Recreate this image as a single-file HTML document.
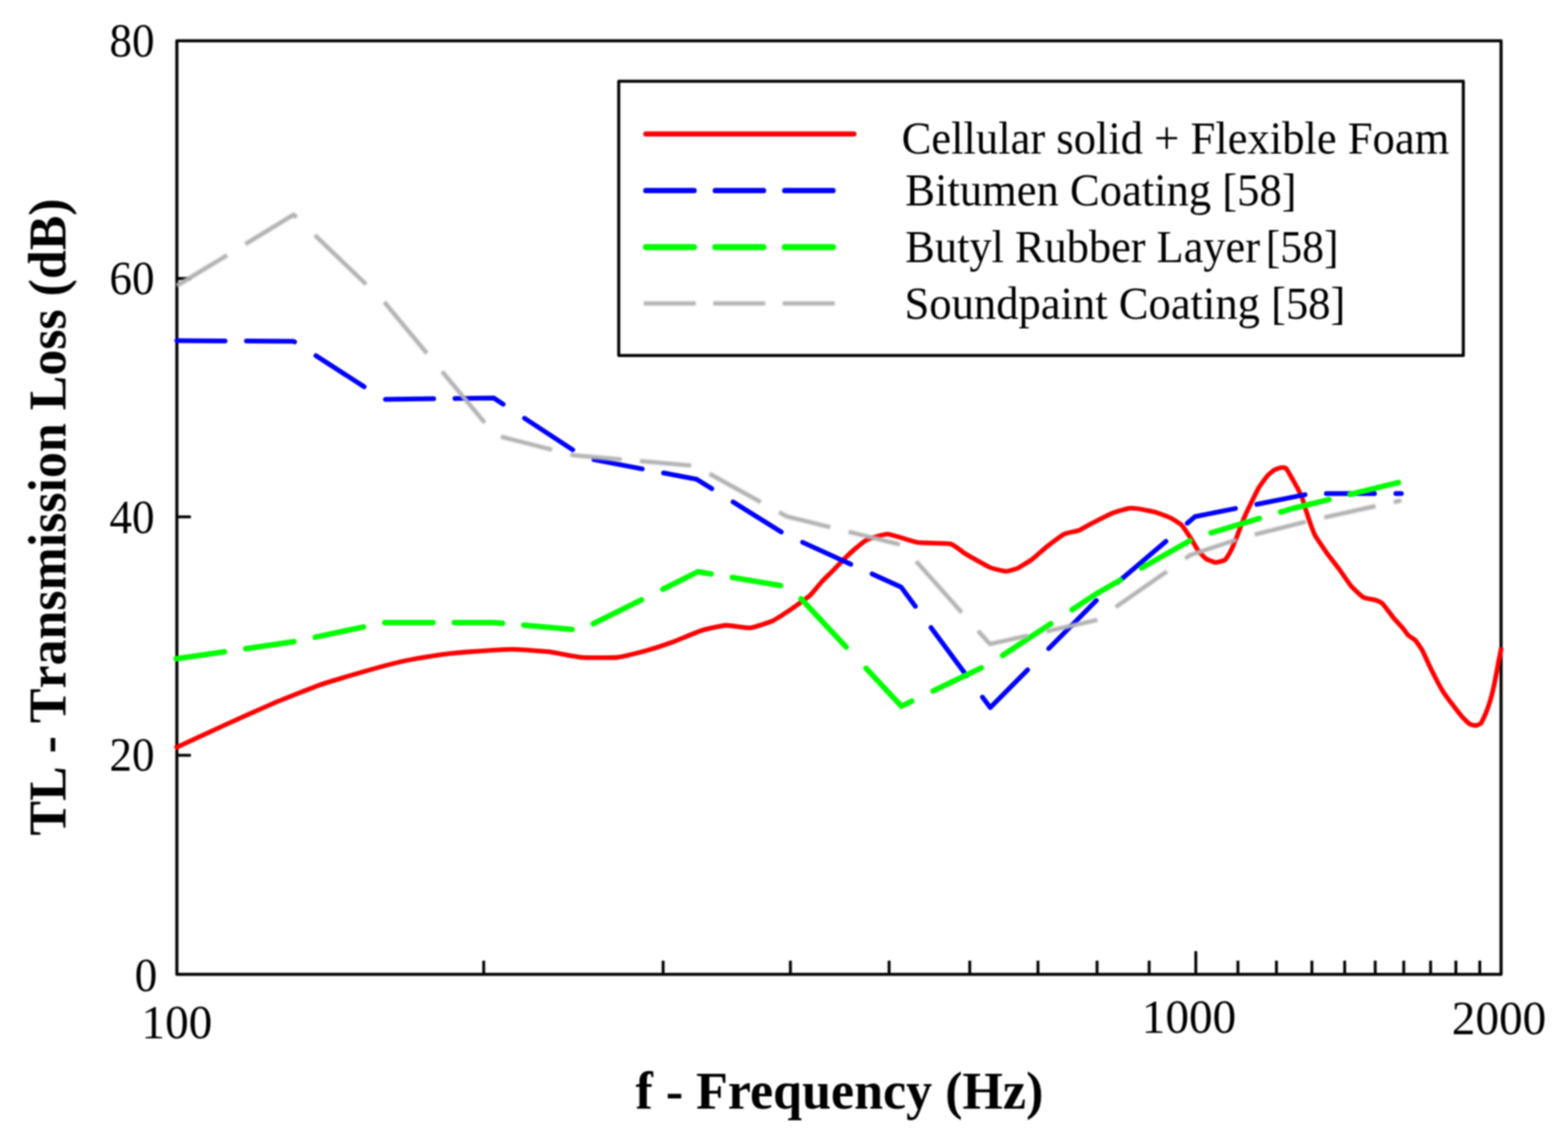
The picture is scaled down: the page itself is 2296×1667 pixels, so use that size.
<!DOCTYPE html>
<html lang="en">
<head>
<meta charset="utf-8">
<title>TL - Transmission Loss (dB) vs f - Frequency (Hz)</title>
<style>
html,body{margin:0;padding:0;background:#ffffff;}
body{width:2296px;height:1667px;overflow:hidden;}
svg{display:block;}
</style>
</head>
<body>
<svg xmlns="http://www.w3.org/2000/svg" width="2296" height="1667" viewBox="0 0 2296 1667">
<defs><filter id="soft" x="0" y="0" width="2296" height="1667" filterUnits="userSpaceOnUse" color-interpolation-filters="sRGB"><feGaussianBlur stdDeviation="1.0"/></filter></defs>
<defs><filter id="softer" x="0" y="0" width="2296" height="1667" filterUnits="userSpaceOnUse" color-interpolation-filters="sRGB"><feGaussianBlur stdDeviation="1.0"/></filter></defs>
<rect x="0" y="0" width="2296" height="1667" fill="#ffffff"/>
<g id="chart" filter="url(#soft)">
<g id="axes" stroke="#050505" stroke-width="4.6" fill="none" stroke-linecap="butt">
<rect x="259.0" y="59.7" width="1939.0" height="1367.5" stroke-linejoin="round"/>
<path d="M708.3 1427.2 V1407.2 M971.0 1427.2 V1407.2 M1157.4 1427.2 V1407.2 M1301.9 1427.2 V1407.2 M1420.0 1427.2 V1407.2 M1519.9 1427.2 V1407.2 M1606.4 1427.2 V1407.2 M1682.7 1427.2 V1407.2 M1812.7 1427.2 V1407.2 M1869.1 1427.2 V1407.2 M1921.0 1427.2 V1407.2 M1969.0 1427.2 V1407.2 M2013.7 1427.2 V1407.2 M2055.5 1427.2 V1407.2 M2094.8 1427.2 V1407.2 M2131.8 1427.2 V1407.2 M2166.8 1427.2 V1407.2 M1751.0 1427.2 V1393.2 M259.0 408.0 H279.5 M259.0 757.2 H279.5 M259.0 1106.4 H279.5" stroke-width="4.3"/>
</g>
<g id="curves">
<path id="series-cellular" d="M256.0 1096.0 C261.3 1093.5 317.7 1067.3 328.2 1062.5 C338.7 1057.7 388.4 1035.4 398.7 1031.0 C409.0 1026.6 459.0 1006.6 469.3 1003.0 C479.6 999.4 530.8 984.4 539.8 981.8 C548.8 979.2 585.4 969.6 592.7 968.0 C600.0 966.4 633.3 960.8 640.0 959.8 C646.7 958.8 676.6 955.6 684.7 955.0 C692.8 954.4 741.2 951.1 749.9 951.1 C758.6 951.1 795.4 953.8 802.8 954.7 C810.2 955.6 843.0 962.2 850.4 962.8 C857.8 963.4 896.5 963.7 903.4 963.0 C910.3 962.3 938.8 955.1 944.7 953.5 C950.6 951.9 977.4 943.2 983.5 941.0 C989.6 938.8 1021.7 925.3 1027.5 923.5 C1033.3 921.7 1057.6 916.3 1062.8 916.0 C1068.0 915.7 1093.1 920.3 1098.1 919.8 C1103.1 919.3 1127.1 911.4 1131.6 909.3 C1136.1 907.2 1155.8 894.2 1159.8 891.5 C1163.8 888.8 1183.1 874.9 1186.3 872.0 C1189.5 869.1 1201.4 854.2 1203.9 851.5 C1206.4 848.8 1217.4 838.2 1220.0 835.5 C1222.6 832.8 1237.4 817.5 1240.0 815.0 C1242.6 812.5 1252.8 803.3 1255.0 801.5 C1257.2 799.7 1266.7 791.7 1270.0 790.3 C1273.3 788.9 1294.6 782.0 1300.0 782.3 C1305.4 782.6 1337.3 793.7 1344.0 794.7 C1350.7 795.7 1386.6 795.4 1391.7 796.6 C1396.8 797.8 1409.8 809.0 1414.0 811.5 C1418.2 814.0 1445.0 829.1 1449.3 831.0 C1453.6 832.9 1469.2 836.7 1472.2 836.8 C1475.2 836.9 1487.0 833.8 1489.8 832.5 C1492.6 831.2 1507.8 821.9 1511.0 819.5 C1514.2 817.1 1530.4 802.7 1533.9 800.0 C1537.4 797.3 1555.2 784.0 1558.6 782.3 C1562.0 780.6 1577.1 778.0 1579.8 777.0 C1582.5 776.0 1592.0 770.2 1595.7 768.3 C1599.4 766.4 1625.7 752.9 1629.9 751.2 C1634.1 749.5 1650.3 745.1 1652.9 744.6 C1655.5 744.1 1662.4 744.6 1665.2 745.0 C1668.0 745.4 1688.0 749.2 1691.6 750.2 C1695.2 751.2 1711.8 757.6 1714.6 759.0 C1717.4 760.4 1728.2 767.0 1730.4 769.3 C1732.6 771.6 1742.7 787.0 1744.5 789.8 C1746.3 792.6 1753.5 805.4 1755.1 807.5 C1756.7 809.6 1763.9 817.1 1765.7 818.3 C1767.5 819.5 1777.7 823.7 1779.8 823.8 C1781.9 823.9 1792.2 821.3 1793.9 820.0 C1795.6 818.7 1801.5 808.6 1802.8 806.0 C1804.1 803.4 1810.3 788.2 1811.6 785.0 C1812.9 781.8 1818.8 765.3 1820.2 762.0 C1821.6 758.7 1828.9 742.9 1830.6 739.5 C1832.3 736.1 1841.1 718.1 1842.9 715.0 C1844.7 711.9 1853.6 699.6 1855.3 697.6 C1857.0 695.6 1864.5 689.2 1866.0 688.3 C1867.5 687.4 1874.3 685.4 1875.5 685.2 C1876.7 685.0 1881.4 684.6 1882.5 685.6 C1883.6 686.6 1889.3 696.1 1890.5 698.2 C1891.7 700.3 1898.2 711.9 1899.4 714.1 C1900.6 716.3 1905.5 725.9 1906.4 728.2 C1907.3 730.5 1910.8 743.0 1911.7 745.8 C1912.6 748.6 1917.8 764.2 1918.8 767.0 C1919.8 769.8 1924.0 781.4 1925.8 784.6 C1927.6 787.8 1940.9 807.5 1943.5 811.1 C1946.1 814.7 1958.5 830.5 1961.1 834.0 C1963.7 837.5 1976.1 855.7 1978.7 858.7 C1981.3 861.7 1993.8 873.5 1996.4 875.0 C1999.0 876.5 2011.9 878.3 2014.0 879.0 C2016.1 879.7 2022.7 882.5 2024.6 884.4 C2026.5 886.3 2038.3 902.3 2040.5 905.0 C2042.7 907.7 2053.0 918.7 2054.6 920.6 C2056.2 922.5 2060.5 929.1 2061.8 930.4 C2063.1 931.7 2070.8 936.1 2072.4 937.8 C2074.0 939.5 2081.5 950.6 2083.0 953.4 C2084.5 956.2 2092.0 972.8 2093.5 976.0 C2095.0 979.2 2102.7 994.3 2104.1 997.0 C2105.5 999.7 2111.2 1010.2 2112.9 1012.8 C2114.6 1015.4 2124.9 1029.5 2127.0 1032.2 C2129.1 1035.0 2139.4 1048.2 2141.2 1050.3 C2143.0 1052.4 2150.3 1059.4 2151.7 1060.3 C2153.1 1061.2 2159.4 1062.9 2160.6 1062.8 C2161.8 1062.7 2167.3 1061.0 2168.5 1059.5 C2169.7 1058.0 2175.3 1045.8 2176.4 1043.0 C2177.5 1040.2 2182.6 1024.9 2183.5 1021.7 C2184.4 1018.5 2188.0 1002.5 2188.8 998.7 C2189.6 994.9 2193.4 974.2 2194.1 970.5 C2194.8 966.8 2198.2 950.1 2198.5 948.5" fill="none" stroke="#ff0000" stroke-width="6.8" stroke-linecap="butt" stroke-linejoin="round"/>
<path id="series-bitumen" d="M259.0 499.0 L329.6 499.4 M360.8 499.6 L430.0 500.0 L431.4 500.9 M462.6 521.0 L533.2 566.5 M564.4 585.0 L635.0 584.1 M666.2 583.7 L723.0 583.0 L736.8 592.1 M768.0 612.6 L838.6 658.9 M869.8 673.4 L940.4 686.9 M971.6 692.8 L1020.0 702.0 L1042.2 715.8 M1073.4 735.3 L1144.0 779.3 M1175.2 794.4 L1245.8 826.5 M1277.0 840.7 L1319.5 860.0 L1340.3 888.1 M1363.3 919.3 L1415.5 989.9 M1438.6 1021.1 L1450.0 1036.5 L1504.7 981.3 M1535.6 950.1 L1605.0 880.0 L1605.5 879.6 M1636.7 853.0 L1707.3 793.0 M1738.5 766.5 L1750.0 756.7 L1809.1 744.9 M1840.3 738.7 L1910.9 724.6 M1942.1 723.0 L2012.7 723.0 M2043.9 723.0 L2052.0 723.0" fill="none" stroke="#0000ff" stroke-width="7.0" stroke-linecap="round" stroke-linejoin="round"/>
<path id="series-butyl" d="M258.0 965.0 L328.6 954.7 M359.8 950.2 L430.0 940.0 L430.4 939.9 M461.6 933.3 L532.2 918.3 M563.4 912.0 L634.0 912.0 M665.2 912.0 L723.0 912.0 L735.8 913.1 M767.0 915.8 L837.6 921.9 M868.8 913.7 L939.4 878.6 M970.6 863.1 L1022.0 837.5 L1041.2 840.7 M1072.4 845.9 L1143.0 857.7 M1173.1 877.2 L1239.0 947.8 M1268.2 979.0 L1320.0 1034.5 L1335.1 1027.2 M1366.3 1012.2 L1436.9 978.3 M1468.1 960.1 L1538.7 913.6 M1569.9 893.1 L1605.0 870.0 L1640.5 849.8 M1671.7 832.1 L1742.3 791.9 M1773.5 780.5 L1844.1 759.4 M1875.3 750.1 L1894.0 744.5 L1945.9 731.8 M1977.1 724.2 L2047.7 706.9" fill="none" stroke="#00ff00" stroke-width="8.0" stroke-linecap="round" stroke-linejoin="round"/>
<path id="series-soundpaint" d="M259.0 418.5 L332.5 373.8 M359.3 357.5 L430.0 314.5 L434.3 318.6 M461.1 344.4 L536.1 416.6 M562.7 442.4 L625.1 517.4 M647.4 544.2 L709.8 619.2 M733.5 639.7 L808.5 658.7 M835.3 665.6 L841.0 667.0 L910.3 673.1 M937.1 675.4 L1012.1 682.0 M1038.9 694.0 L1113.9 735.5 M1140.7 750.3 L1152.0 756.5 L1215.7 772.2 M1242.5 778.9 L1317.5 797.4 M1341.6 822.3 L1408.4 897.3 M1432.2 924.1 L1449.5 943.5 L1505.1 931.0 M1531.9 924.9 L1606.9 908.0 M1633.7 889.3 L1708.7 837.0 M1735.5 818.2 L1743.0 813.0 L1810.5 790.6 M1837.3 782.9 L1912.3 764.2 M1939.1 758.0 L2014.1 741.4 M2040.9 735.5 L2052.0 733.0" fill="none" stroke="#b2b2b2" stroke-width="6.2" stroke-linecap="butt" stroke-linejoin="round" filter="url(#softer)"/>
</g>
<g id="legend">
<rect x="906.0" y="119.0" width="1236.7" height="401.8" fill="#ffffff" stroke="#050505" stroke-width="4.5" stroke-linejoin="round"/>
<path d="M945.7 196.3 H1250.4" stroke="#ff0000" stroke-width="7.6" stroke-linecap="round" fill="none"/>
<path d="M945.7 279.2 H1016.3 M1047.4 279.2 H1118.0 M1149.1 279.2 H1219.7" stroke="#0000ff" stroke-width="7.8" stroke-linecap="round" fill="none"/>
<path d="M945.7 362.0 H1016.3 M1047.4 362.0 H1118.0 M1149.1 362.0 H1219.7" stroke="#00ff00" stroke-width="9.0" stroke-linecap="round" fill="none"/>
<path d="M942.7 444.5 H1018.7 M1044.4 444.5 H1120.4 M1146.1 444.5 H1222.1" stroke="#b2b2b2" stroke-width="6.2" stroke-linecap="butt" fill="none" filter="url(#softer)"/>
</g>
<g id="labels" font-family="'Liberation Serif', 'Times New Roman', Times, serif" fill="#000000" style="white-space:pre">
<text transform="translate(226.3 82.7) scale(0.9550 1.0000)" font-size="69.2" font-weight="normal" text-anchor="end">80</text>
<text transform="translate(226.3 430.5) scale(0.9550 1.0000)" font-size="69.2" font-weight="normal" text-anchor="end">60</text>
<text transform="translate(226.3 780.5) scale(0.9550 1.0000)" font-size="69.2" font-weight="normal" text-anchor="end">40</text>
<text transform="translate(226.3 1129.3) scale(0.9550 1.0000)" font-size="69.2" font-weight="normal" text-anchor="end">20</text>
<text transform="translate(230.3 1452.0) scale(0.9550 1.0000)" font-size="69.2" font-weight="normal" text-anchor="end">0</text>
<text transform="translate(259.0 1521.0)" font-size="69.2" font-weight="normal" text-anchor="middle">100</text>
<text transform="translate(1741.0 1513.0)" font-size="69.2" font-weight="normal" text-anchor="middle">1000</text>
<text transform="translate(2195.0 1514.8) scale(1.0000 1.0150)" font-size="69.2" font-weight="normal" text-anchor="middle">2000</text>
<text transform="translate(1320.2 224.8) scale(1.0000 1.0300)" font-size="65.3" font-weight="normal" text-anchor="start">Cellular solid + Flexible Foam</text>
<text transform="translate(1325.6 301.3) scale(1.0000 1.0300)" font-size="65.3" font-weight="normal" text-anchor="start">Bitumen Coating [58]</text>
<text transform="translate(1325.6 383.8) scale(0.9946 1.0300)" font-size="65.3" font-weight="normal" text-anchor="start">Butyl Rubber Layer</text>
<text transform="translate(1853.6 383.8) scale(0.9780 1.0300)" font-size="65.3" font-weight="normal" text-anchor="start">[58]</text>
<text transform="translate(1324.5 466.7) scale(1.0000 1.0300)" font-size="65.3" font-weight="normal" text-anchor="start">Soundpaint Coating [58]</text>
<text transform="translate(930.5 1623.7) scale(1.0000 1.0400)" font-size="76.2" font-weight="bold" text-anchor="start">f - Frequency (Hz)</text>
<text transform="translate(95.9 1224.0) rotate(-90) scale(0.9770 1.0150)" font-size="77.8" font-weight="bold" text-anchor="start" style="font-kerning:none">TL - Transmission Loss (dB)</text>
</g>
</g>
</svg>
</body>
</html>
